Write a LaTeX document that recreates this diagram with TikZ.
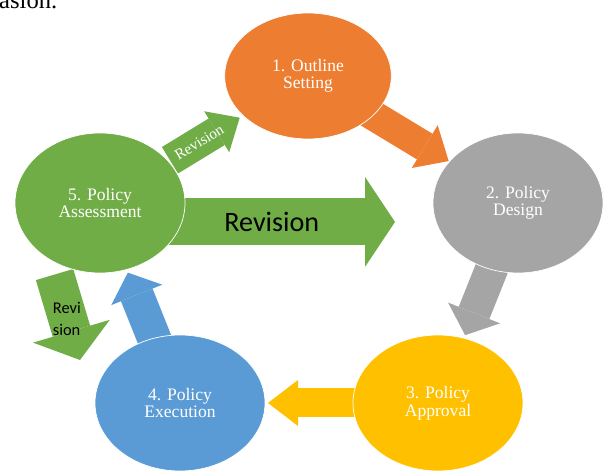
\documentclass[tikz,border=0pt]{standalone}
\usepackage{fontspec}
\setmainfont{Liberation Serif}
\newfontfamily\labelfont{Carlito}
\usetikzlibrary{arrows.meta,shapes.geometric,backgrounds}
\definecolor{StageOrange}{HTML}{ED7D31}
\definecolor{StageGray}{HTML}{A5A5A5}
\definecolor{StageYellow}{HTML}{FFC000}
\definecolor{StageBlue}{HTML}{5B9BD5}
\definecolor{StageGreen}{HTML}{70AD47}
\tikzset{
  stage/.style={ellipse,draw=white,line width=0.6pt,inner sep=0pt,align=center,
                text=white,minimum width=51mm,minimum height=42mm,
                font=\fontsize{15}{15}\selectfont},
  flowband/.style n args={4}{draw=#1,line width=#2,
                -{Triangle[width=#3,length=#4,line width=0pt]}},
  revnote/.style={font=\labelfont\fontsize{24}{24}\selectfont,text=black}
}
\begin{document}
\begin{tikzpicture}[x=0.3mm,y=-0.3mm]
  \useasboundingbox (0,0) rectangle (608,472);
  \node[anchor=base west,inner sep=0pt,font=\fontsize{21}{21}\selectfont] (spill) at (-1,9) {asion.};

  % the five stages of the cycle
  \node[stage,fill=StageOrange,minimum width=50mm,minimum height=37.8mm] (outline) at (308,76) {1. Outline\\Setting};
  \node[stage,fill=StageGray] (design) at (518,203) {2. Policy\\Design};
  \node[stage,fill=StageYellow,minimum height=40.8mm] (approval) at (438,403) {3. Policy\\Approval};
  \node[stage,fill=StageBlue,minimum height=40.8mm] (execution) at (180,403) {4. Policy\\Execution};
  \node[stage,fill=StageGreen] (assess) at (100,203) {5. Policy\\Assessment};
  \coordinate (loopend) at (80,360);

  \begin{scope}[on background layer]
    \draw[flowband={StageOrange}{9mm}{15mm}{8.4mm},shorten <=21mm,shorten >=24.3mm] (outline.center) -- (design.center);
    \draw[flowband={StageGray}{9.9mm}{16.8mm}{7.2mm},shorten <=18mm,shorten >=21.9mm] (design.center) -- (approval.center);
    \draw[flowband={StageYellow}{8.7mm}{13.8mm}{9mm},shorten <=21mm,shorten >=26.4mm] (approval.center) -- (execution.center);
    \draw[flowband={StageBlue}{10.2mm}{16.5mm}{7.2mm},shorten <=18mm,shorten >=22.5mm] (execution.center) -- (assess.center);
    % revision paths out of the assessment
    \draw[flowband={StageGreen}{9.3mm}{14.4mm}{8.1mm},shorten <=24.6mm,shorten >=24mm] (assess.center) --
      node[pos=0.477,sloped,inner sep=0pt,text=white,font=\fontsize{13}{13}\selectfont] {Revision} (outline.center);
    \draw[flowband={StageGreen}{14.1mm}{27mm}{9mm},shorten <=15mm,shorten >=36.9mm] ([yshift=-5.7mm]assess.center) --
      node[pos=0.411,revnote] {Revision} ([yshift=-5.7mm]design.center);
    \draw[flowband={StageGreen}{11.7mm}{24mm}{9mm},shorten <=4.5mm] (assess.-131) --
      node[pos=0.59,xshift=-0.3mm,align=left,font=\labelfont\fontsize{14}{19}\selectfont] {Revi\\sion} (loopend);
  \end{scope}
\end{tikzpicture}
\end{document}
